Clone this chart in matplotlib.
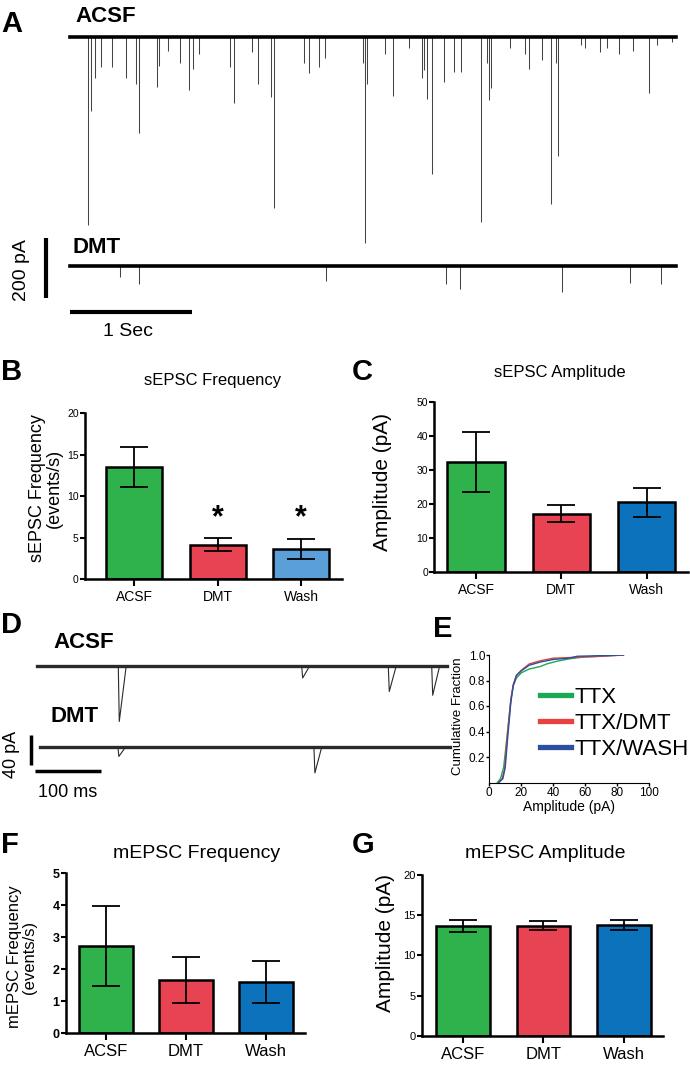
import matplotlib
matplotlib.use("Agg")
import matplotlib.pyplot as plt
import numpy as np

plt.rcParams["font.family"] = ["Liberation Sans", "DejaVu Sans"]

# ---- data ------------------------------------------------------------
groups = ["ACSF", "DMT", "Wash"]

sepsc_freq_mean = [13.5, 4.15, 3.6]
sepsc_freq_sem = [2.4, 0.78, 1.2]
sepsc_amp_mean = [32.3, 17.2, 20.5]
sepsc_amp_sem = [8.9, 2.5, 4.2]
mepsc_freq_mean = [2.73, 1.67, 1.60]
mepsc_freq_sem = [1.24, 0.73, 0.66]
mepsc_amp_mean = [13.6, 13.7, 13.8]
mepsc_amp_sem = [0.75, 0.55, 0.60]

# panel A: sEPSC events (s, pA)
a_acsf_t = [0.145, 0.170, 0.205, 0.252, 0.343, 0.458, 0.542, 0.567, 0.712, 0.731,
            0.805, 0.904, 0.978, 1.011, 1.060, 1.315, 1.348, 1.495, 1.545, 1.649,
            1.674, 1.923, 1.964, 2.046, 2.095, 2.408, 2.424, 2.441, 2.589, 2.652,
            2.786, 2.890, 2.909, 2.931, 2.972, 3.071, 3.155, 3.210, 3.377, 3.424,
            3.443, 3.457, 3.615, 3.739, 3.769, 3.876, 3.950, 3.991, 4.007, 4.196,
            4.232, 4.355, 4.410, 4.509, 4.626, 4.755, 4.821, 4.947]
a_acsf_amp = [625, 245, 135, 100, 100, 135, 155, 320, 165, 95,
              45, 85, 175, 105, 55, 100, 220, 50, 155, 200,
              570, 85, 120, 100, 70, 85, 685, 155, 55, 195,
              35, 135, 110, 205, 455, 150, 115, 115, 615, 85,
              210, 170, 35, 55, 105, 75, 555, 85, 395, 25,
              35, 50, 35, 55, 45, 185, 25, 15]
a_dmt_t = [0.411, 0.565, 2.104, 3.090, 3.205, 4.043, 4.601, 4.856]
a_dmt_amp = [35, 60, 50, 60, 75, 85, 55, 60]
a_span = [0.0, 4.98]

# panel D: mEPSC events (ms, pA)
d_acsf_t = [123.6, 401.5, 532.7, 598.5]
d_acsf_amp = [74, 16, 34, 39]
d_dmt_t = [123.0, 420.0]
d_dmt_amp = [13, 35]
d_acsf_span = [0.0, 621.0]
d_dmt_span = [5.0, 626.0]

# panel E: cumulative amplitude distributions
cdf_ttx_x = [5, 7, 9, 11, 13.5, 15, 17, 20, 25, 32, 36, 42, 50, 60, 70, 84]
cdf_ttx_y = [0, 0.03, 0.12, 0.35, 0.65, 0.76, 0.82, 0.86, 0.89, 0.91, 0.93, 0.95, 0.97, 0.985, 0.99, 1.0]
cdf_dmt_x = [6, 8, 9.5, 11, 13.5, 15, 17, 20, 25, 32, 40, 50, 60, 70, 84]
cdf_dmt_y = [0, 0.03, 0.10, 0.33, 0.65, 0.77, 0.84, 0.88, 0.93, 0.955, 0.975, 0.98, 0.985, 0.99, 1.0]
cdf_wash_x = [6, 8.5, 10, 11.5, 13.5, 15, 17, 20, 25, 32, 40, 50, 55, 70, 84]
cdf_wash_y = [0, 0.03, 0.12, 0.35, 0.63, 0.76, 0.84, 0.875, 0.92, 0.945, 0.965, 0.975, 0.99, 0.995, 1.0]

green, red = "#2fb24c", "#e84352"
lightblue, blue = "#5b9fd9", "#0b72bb"

# ---- layout helpers (pixel coordinates) ------------------------------
W, H = 690, 1066
fig = plt.figure(figsize=(W / 100, H / 100), dpi=100)


def px_axes(x0, y0, x1, y1):
    return fig.add_axes([x0 / W, 1 - y1 / H, (x1 - x0) / W, (y1 - y0) / H])


def ftext(x, y, s, **kw):
    fig.text(x / W, 1 - y / H, s, **kw)


def letter(x, y, s):
    ftext(x, y, s, fontsize=21, fontweight="bold", va="baseline", ha="left")


# ---- A: sEPSC traces ----------------------------------------------------
px_s, px_pA = 121.7, 0.3
axA = px_axes(0, 0, 690, 340)
axA.set_xlim(-70 / px_s, 620 / px_s)
axA.set_ylim(-(340 - 37) / px_pA, 37 / px_pA)
axA.axis("off")
dmt_off = -(266 - 37) / px_pA
axA.vlines(a_acsf_t, -np.array(a_acsf_amp), 0, color="#444444", lw=0.75, zorder=1)
axA.plot(a_span, [0, 0], color="black", lw=2.6, zorder=2)
axA.vlines(a_dmt_t, dmt_off - np.array(a_dmt_amp), dmt_off, color="#444444", lw=0.75, zorder=1)
axA.plot(a_span, [dmt_off, dmt_off], color="black", lw=2.6, zorder=2)
# scale bars
bar_bottom = -(298 - 37) / px_pA
axA.plot([-0.2, -0.2], [bar_bottom, bar_bottom + 200], color="black", lw=3, solid_capstyle="butt")
axA.plot([0, 1], [-(312 - 37) / px_pA] * 2, color="black", lw=3, solid_capstyle="butt")
letter(1, 32, "A")
ftext(75, 22, "ACSF", fontsize=16, fontweight="bold", va="baseline")
ftext(72, 253, "DMT", fontsize=16, fontweight="bold", va="baseline")
ftext(22, 270, "200 pA", fontsize=14, rotation=90, ha="center", va="center")
ftext(128, 336, "1 Sec", fontsize=14, ha="center", va="baseline")


# ---- bar panels -------------------------------------------------------
def bar_panel(rect, means, sems, colors, ylim, yticks, xlim, ysize, xsize, ybold=False):
    ax = px_axes(*rect)
    x = np.arange(len(groups))
    ax.bar(x, means, width=0.67, color=colors, edgecolor="black", linewidth=1.8, zorder=2)
    ax.errorbar(x, means, yerr=sems, fmt="none", ecolor="black", elinewidth=1.3,
                capsize=10, capthick=1.3, zorder=3)
    ax.set_xlim(xlim)
    ax.set_ylim(ylim)
    ax.set_xticks(x)
    ax.set_xticklabels(groups, fontsize=xsize)
    ax.set_yticks(yticks)
    ax.set_yticklabels([str(v) for v in yticks], fontsize=ysize,
                       fontweight="bold" if ybold else "normal")
    for s in ["top", "right"]:
        ax.spines[s].set_visible(False)
    for s in ["left", "bottom"]:
        ax.spines[s].set_linewidth(1.8)
    ax.tick_params(axis="y", length=3.5, width=1.5, pad=1, colors="black")
    ax.tick_params(axis="x", length=5, width=1.5, pad=3)
    return ax


axB = bar_panel((85, 413.3, 342, 579.3), sepsc_freq_mean, sepsc_freq_sem,
                [green, red, lightblue], (0, 20), [0, 5, 10, 15, 20], (-0.587, 2.49), 7.5, 10)
for i in [1, 2]:
    axB.text(i, 7.4, "*", ha="center", va="center", fontsize=22, fontweight="bold")
letter(1, 380, "B")
ftext(213, 380, "sEPSC Frequency", fontsize=12, ha="center", va="center")
ftext(46, 488, "sEPSC Frequency\n(events/s)", fontsize=13, rotation=90,
      ha="center", va="center", multialignment="center", linespacing=1.0)

axC = bar_panel((434.3, 401.7, 688, 572.3), sepsc_amp_mean, sepsc_amp_sem,
                [green, red, blue], (0, 50), [0, 10, 20, 30, 40, 50], (-0.489, 2.485), 7.5, 10)
letter(352, 380, "C")
ftext(560, 373, "sEPSC Amplitude", fontsize=12, ha="center", va="center")
ftext(383, 482, "Amplitude (pA)", fontsize=15, rotation=90, ha="center", va="center")

# ---- D: mEPSC traces --------------------------------------------------
px_ms, px_pA_d = 0.66, 0.75
axD = px_axes(0, 580, 460, 810)
axD.set_xlim(-36.7 / px_ms, (460 - 36.7) / px_ms)
axD.set_ylim(-(810 - 666) / px_pA_d, (666 - 580) / px_pA_d)
axD.axis("off")
d_off = -(746.7 - 666) / px_pA_d
for t, a in zip(d_acsf_t, d_acsf_amp):
    axD.plot([t, t + 1.5, t + 12], [0, -a, 0], color="#2a2a2a", lw=0.8, zorder=1)
for t, a in zip(d_dmt_t, d_dmt_amp):
    axD.plot([t, t + 1.5, t + 12], [d_off, d_off - a, d_off], color="#2a2a2a", lw=0.8, zorder=1)
axD.plot(d_acsf_span, [0, 0], color="#2a2a2a", lw=2.4, zorder=2)
axD.plot(d_dmt_span, [d_off, d_off], color="#2a2a2a", lw=2.4, zorder=2)
axD.plot([-9, -9], [-(765 - 666) / px_pA_d, -(765 - 666) / px_pA_d + 40],
         color="black", lw=2.5, solid_capstyle="butt")
axD.plot([-2.5, 97.5], [-(770.7 - 666) / px_pA_d] * 2, color="black", lw=2.5, solid_capstyle="butt")
letter(1, 633, "D")
ftext(53, 648, "ACSF", fontsize=16, fontweight="bold", va="baseline")
ftext(50, 722, "DMT", fontsize=16, fontweight="bold", va="baseline")
ftext(12, 754, "40 pA", fontsize=13, rotation=90, ha="center", va="center")
ftext(68, 797, "100 ms", fontsize=13, ha="center", va="baseline")

# ---- E: cumulative distributions --------------------------------------
axE = px_axes(489.3, 655, 649, 782.5)
axE.plot(cdf_ttx_x, cdf_ttx_y, color="#1aaa55", lw=1.0, label="TTX")
axE.plot(cdf_dmt_x, cdf_dmt_y, color="#e8413f", lw=1.0, label="TTX/DMT")
axE.plot(cdf_wash_x, cdf_wash_y, color="#2b4fa0", lw=1.0, label="TTX/WASH")
axE.set_xlim(0, 100)
axE.set_ylim(0, 1.0)
axE.set_xticks([0, 20, 40, 60, 80, 100])
axE.set_yticks([0.2, 0.4, 0.6, 0.8, 1.0])
axE.set_yticklabels(["0.2", "0.4", "0.6", "0.8", "1.0"])
axE.tick_params(labelsize=8.5, length=2.5, width=1, pad=0.5)
for s in ["top", "right"]:
    axE.spines[s].set_visible(False)
leg = axE.legend(loc="upper left", bbox_to_anchor=(540 / W, 1 - 687 / H),
                 bbox_transform=fig.transFigure, frameon=False, fontsize=16,
                 handlelength=1.4, handletextpad=0.15, labelspacing=0.22,
                 borderpad=0, borderaxespad=0)
for ln in leg.get_lines():
    ln.set_linewidth(3.8)
letter(433, 637, "E")
ftext(569, 807, "Amplitude (pA)", fontsize=10, ha="center", va="center")
ftext(458, 716, "Cumulative Fraction", fontsize=9.5, rotation=90, ha="center", va="center")

# ---- F / G: mEPSC bars -------------------------------------------------
bar_panel((65.7, 873.3, 305, 1033.3), mepsc_freq_mean, mepsc_freq_sem,
          [green, red, blue], (0, 5), [0, 1, 2, 3, 4, 5], (-0.5, 2.49), 9, 12, ybold=True)
letter(1, 853, "F")
ftext(197, 853, "mEPSC Frequency", fontsize=14, ha="center", va="center")
ftext(22, 957, "mEPSC Frequency\n(events/s)", fontsize=12, rotation=90,
      ha="center", va="center", multialignment="center", linespacing=1.0)

bar_panel((421.7, 875, 663, 1035.7), mepsc_amp_mean, mepsc_amp_sem,
          [green, red, blue], (0, 20), [0, 5, 10, 15, 20], (-0.517, 2.49), 8, 12)
letter(352, 853, "G")
ftext(545, 853, "mEPSC Amplitude", fontsize=14, ha="center", va="center")
ftext(386, 943, "Amplitude (pA)", fontsize=15, rotation=90, ha="center", va="center")

fig.savefig("out.png", dpi=100)
